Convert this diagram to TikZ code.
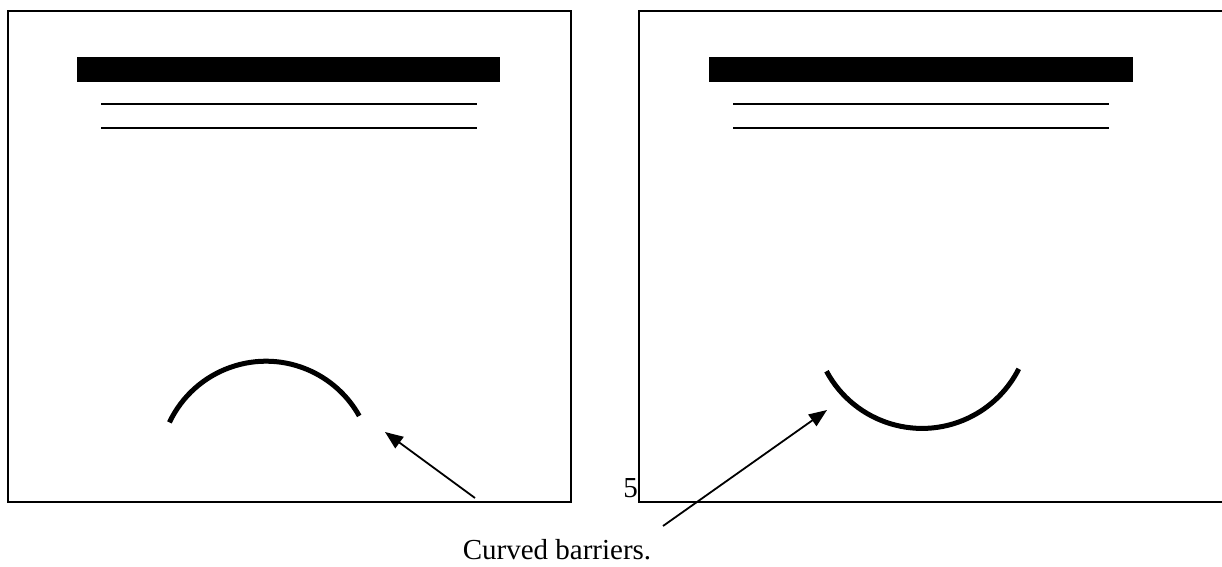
\documentclass[tikz,border=0pt]{standalone}
\usepackage{fontspec}
\setmainfont{Liberation Serif}
\usetikzlibrary{arrows.meta}
\begin{document}
\begin{tikzpicture}[x=1pt,y=-1pt,
  frame/.style={line width=2pt},
  titlebar/.style={fill=black},
  rule/.style={line width=2pt},
  barrier/.style={line width=5pt},
  pointer/.style={line width=1.8pt,-{Triangle[length=18pt,width=14pt]}},
  label/.style={font=\fontsize{29}{29}\selectfont, inner sep=0pt}]
\useasboundingbox (0,0) rectangle (1222,566);
% left page
\draw[frame] (8,11) rectangle (571,502);
\fill[titlebar] (77,57) rectangle (500,82);
\draw[rule] (101,104) -- (477,104);
\draw[rule] (101,128) -- (477,128);
\draw[barrier] (266,468) ++(-154.7:106.8) arc[start angle=-154.7, end angle=-29.2, radius=106.8];
% right page (runs past the right edge)
\draw[frame] (1240,11) -- (639,11) -- (639,502) -- (1240,502);
\fill[titlebar] (709,57) rectangle (1133,82);
\draw[rule] (733,104) -- (1109,104);
\draw[rule] (733,128) -- (1109,128);
\draw[barrier] (922,320) ++(151.8:108.4) arc[start angle=151.8, end angle=26.8, radius=108.4];
% page number
\node[label, anchor=base east] (pg) at (638,497) {5};
% caption with pointers
\node[label, anchor=base] (cap) at (557,559) {Curved barriers.};
\coordinate (t1) at (385,432);
\coordinate (t2) at (827,410);
\coordinate (s1) at (475,498);
\coordinate (s2) at (663,526);
\draw[pointer] (s1) -- (t1);
\draw[pointer] (s2) -- (t2);
\end{tikzpicture}
\end{document}
